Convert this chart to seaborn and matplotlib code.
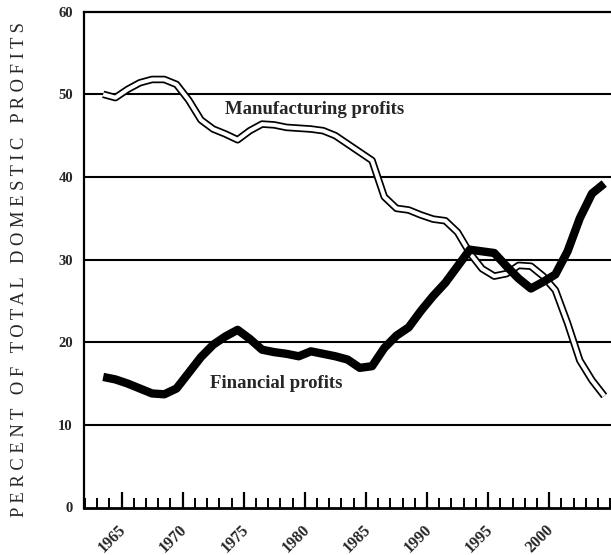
import pandas as pd
import matplotlib
matplotlib.use('Agg')
import matplotlib.pyplot as plt
import matplotlib.transforms as mtransforms
import seaborn as sns

# Data (percent of total domestic profits)
years = list(range(1963, 2005))
manufacturing = [50.0, 49.6, 50.6, 51.4, 51.8, 51.8, 51.2, 49.3, 46.9, 45.8,
                 45.2, 44.5, 45.6, 46.4, 46.3, 46.0, 45.9, 45.8, 45.6, 45.0,
                 44.0, 43.0, 42.0, 37.6, 36.2, 36.0, 35.4, 34.9, 34.7, 33.3,
                 30.8, 28.9, 28.0, 28.3, 29.3, 29.2, 28.0, 26.3, 22.3, 17.8,
                 15.4, 13.5]
financial = [15.8, 15.5, 15.0, 14.4, 13.8, 13.7, 14.4, 16.3, 18.2, 19.7,
             20.7, 21.5, 20.4, 19.1, 18.8, 18.6, 18.3, 18.9, 18.6, 18.3,
             17.9, 16.9, 17.1, 19.3, 20.8, 21.8, 23.8, 25.6, 27.2, 29.2,
             31.2, 31.0, 30.8, 29.2, 27.7, 26.5, 27.3, 28.2, 31.0, 35.0,
             38.0, 39.2]
tick_years = [1965, 1970, 1975, 1980, 1985, 1990, 1995, 2000]
minor_years = list(range(1962, 2006))
y_ticks = [0, 10, 20, 30, 40, 50, 60]

df = pd.DataFrame({'year': years, 'Manufacturing': manufacturing, 'Financial': financial})

sns.set_style('white')
plt.rcParams['font.family'] = ['Liberation Serif', 'DejaVu Serif']

fig = plt.figure(figsize=(6.11, 5.55), dpi=100)
ax = fig.add_axes([84 / 611, 1 - 507.5 / 555, (620 - 84) / 611, (507.5 - 11.7) / 555])

# horizontal rules
for v in y_ticks[1:-1]:
    ax.axhline(v, color='black', lw=1.5, zorder=1)

# manufacturing: white line with black outline
sns.lineplot(data=df, x='year', y='Manufacturing', ax=ax, color='black', lw=5.4,
             solid_joinstyle='round', solid_capstyle='butt', zorder=2)
sns.lineplot(data=df, x='year', y='Manufacturing', ax=ax, color='white', lw=2.9,
             solid_joinstyle='round', solid_capstyle='butt', zorder=3)
# financial: thick black line
sns.lineplot(data=df, x='year', y='Financial', ax=ax, color='black', lw=6.0,
             solid_joinstyle='round', solid_capstyle='butt', zorder=4)

ax.set_xlim(1961.43, 2005.29)
ax.set_ylim(0, 60)

# ticks sit half a year before each data point
ax.set_xticks([y - 0.5 for y in tick_years])
ax.set_xticklabels([str(y) for y in tick_years], rotation=45, ha='center',
                   fontsize=11.5, fontweight='bold')
ax.set_xticks([y - 0.5 for y in minor_years], minor=True)
ax.tick_params(axis='x', which='major', direction='in', length=11.5, width=1.6,
               color='black', pad=10, bottom=True)
ax.tick_params(axis='x', which='minor', direction='in', length=7.5, width=1.4,
               color='black', bottom=True)
offset = mtransforms.ScaledTranslation(-9 / 100, 0, fig.dpi_scale_trans)
for lab in ax.get_xticklabels():
    lab.set_transform(lab.get_transform() + offset)

ax.set_yticks(y_ticks)
ax.set_yticklabels([str(v) for v in y_ticks], fontsize=10.5, fontweight='bold')
ax.tick_params(axis='y', length=0, pad=8)

for side in ['left', 'bottom', 'top']:
    ax.spines[side].set_visible(True)
    ax.spines[side].set_color('black')
    ax.spines[side].set_linewidth(1.6)
ax.spines['bottom'].set_linewidth(2.0)
ax.spines['right'].set_visible(False)

ax.set_xlabel('')
ax.set_ylabel('')

ax.text(1980.3, 48.2, 'Manufacturing profits', fontsize=13.5, fontweight='bold',
        ha='center', va='center', zorder=5)
ax.text(1977.2, 15.0, 'Financial profits', fontsize=13.5, fontweight='bold',
        ha='center', va='center', zorder=5)

ylabel = '   '.join(' '.join(w) for w in 'PERCENT OF TOTAL DOMESTIC PROFITS'.split())
fig.text(20 / 611, 0.514, ylabel, rotation=90, ha='center', va='center', fontsize=13.3)

fig.savefig('out.png', dpi=100)
